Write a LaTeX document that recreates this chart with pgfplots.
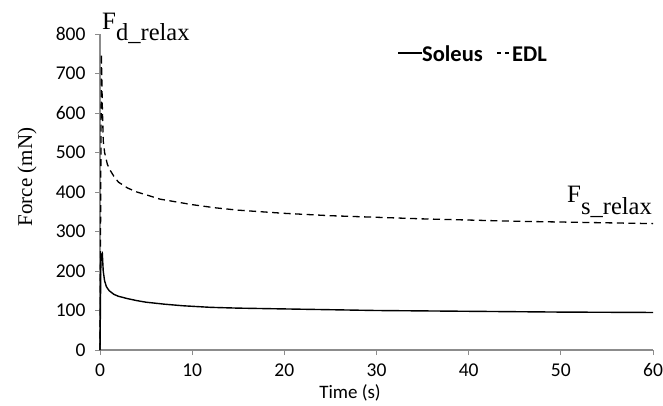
\documentclass[border=0pt]{standalone}
\usepackage{pgfplots}
\pgfplotsset{compat=1.18}
\usepackage{fontspec}
\setmainfont{Carlito}
\newfontfamily\timesf{Liberation Serif}
\begin{document}
\begin{tikzpicture}[x=1pt,y=1pt]
\useasboundingbox (0,0) rectangle (663,405);
\begin{axis}[
  at={(100pt,55pt)}, anchor=south west,
  scale only axis, width=553pt, height=316pt,
  xmin=0, xmax=60, ymin=0, ymax=800,
  xtick={0,10,...,60}, ytick={0,100,...,800},
  axis x line*=bottom, axis y line*=left,
  axis line style={draw=black!45, line width=1.5pt, -},
  tick style={draw=black!45, line width=1pt},
  major tick length=5pt,
  tick align=outside,
  ticklabel style={font=\fontsize{19.5}{21}\selectfont, text=black},
  /pgf/number format/assume math mode=true,
  yticklabel style={xshift=-6pt},
  xticklabel style={yshift=-5pt},
  clip=false,
]
\addplot[black, line width=1.4pt] coordinates {
(0,0) (0.1,240) (0.25,245) (0.35,200) (0.5,175) (0.7,160) (1,150) (1.5,141) (2,136) (3,130) (4,125) (5,121) (7,116) (9,112) (12,108) (15,106) (20,104) (25,102) (30,100) (35,99) (40,98) (45,97) (50,96) (55,95.5) (60,95)
};
\addplot[black, line width=1.3pt, dash pattern=on 7pt off 4.5pt] coordinates {
(0,0) (0.15,750) (0.25,620) (0.35,530) (0.5,500) (0.8,470) (1.1,455) (1.5,440) (2,425) (3,410) (4,400) (5,393) (6.5,382) (8,376) (10,368) (12.5,360) (15,354) (17.5,350) (20,346) (25,340) (30,336) (35,332) (40,329) (45,326) (50,324) (55,322) (60,320)
};
\end{axis}
% axis labels
\node[rotate=90, font=\timesf\fontsize{21}{23}\selectfont] at (27,228) {Force (mN)};
\node[font=\fontsize{19}{21}\selectfont] at (350,12) {Time (s)};
% legend
\draw[black, line width=1.4pt] (398,352) -- (422,352);
\node[anchor=base west, font=\bfseries\fontsize{22.5}{24}\selectfont, inner sep=0] at (422,343) {Soleus};
\draw[black, line width=1.6pt] (497,352) -- (501,352) (505,352) -- (509,352);
\node[anchor=base west, font=\bfseries\fontsize{22.5}{24}\selectfont, inner sep=0] at (512,343) {EDL};
% annotations
\node[anchor=base west, inner sep=0, font=\timesf\fontsize{25}{27}\selectfont] at (102,375) {F\raisebox{-11pt}{\fontsize{24.5}{26}\selectfont d\_relax}};
\node[anchor=base west, inner sep=0, font=\timesf\fontsize{25}{27}\selectfont] at (567,203) {F\raisebox{-12pt}{\fontsize{24.5}{26}\selectfont s\_relax}};
\end{tikzpicture}
\end{document}
